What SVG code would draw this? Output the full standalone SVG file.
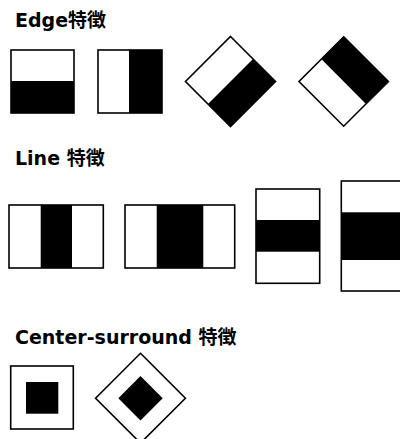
<svg xmlns="http://www.w3.org/2000/svg" width="400" height="439" viewBox="0 0 400 439">
<style>
.t{font-family:"DejaVu Sans","Noto Sans CJK JP",sans-serif;font-weight:bold;font-size:19px;fill:#000}
.o{fill:none;stroke:#000;stroke-width:1.6}
.w{fill:#fff}
.k{fill:#000}
</style>
<rect width="400" height="439" fill="#fff"/>
<text class="t" x="15" y="27">Edge特徴</text>
<text class="t" x="15" y="165">Line 特徴</text>
<text class="t" x="15" y="344">Center-surround 特徴</text>

<g id="edge1">
<rect class="k" x="11" y="81" width="63" height="32"/>
<rect class="o" x="11" y="50" width="63" height="63"/>
</g>
<g id="edge2">
<rect class="k" x="129" y="50" width="33" height="63"/>
<rect class="o" x="98" y="50" width="64" height="63"/>
</g>
<g id="edge3">
<polygon class="k" points="253,59 275.5,81.5 230.5,126.5 208,104"/>
<polygon class="o" points="230.5,36.5 275.5,81.5 230.5,126.5 185.5,81.5"/>
</g>
<g id="edge4">
<polygon class="k" points="343.7,36.8 388.4,81.5 366,103.9 321.3,59.1"/>
<polygon class="o" points="343.7,36.8 388.4,81.5 343.7,126.2 299,81.5"/>
</g>

<g id="line1">
<rect class="k" x="40.7" y="205" width="31.3" height="63"/>
<rect class="o" x="9" y="205" width="94.3" height="63"/>
</g>
<g id="line2">
<rect class="k" x="156.7" y="205" width="46.6" height="63"/>
<rect class="o" x="125" y="205" width="109.7" height="63"/>
</g>
<g id="line3">
<rect class="k" x="256" y="220" width="63.7" height="31.7"/>
<rect class="o" x="256" y="189" width="63.7" height="94.3"/>
</g>
<g id="line4">
<rect class="k" x="341.3" y="212.3" width="70" height="47.7"/>
<rect class="o" x="341.3" y="181" width="70" height="110"/>
</g>

<g id="center1">
<rect class="k" x="26" y="382" width="32.3" height="31.7"/>
<rect class="o" x="10.7" y="366" width="62.6" height="63"/>
</g>
<g id="center2">
<polygon class="k" points="140.5,376 162.7,398.2 140.5,420.4 118.3,398.2"/>
<polygon class="o" points="140.5,353.3 185.4,398.2 140.5,443.1 95.6,398.2"/>
</g>
</svg>
